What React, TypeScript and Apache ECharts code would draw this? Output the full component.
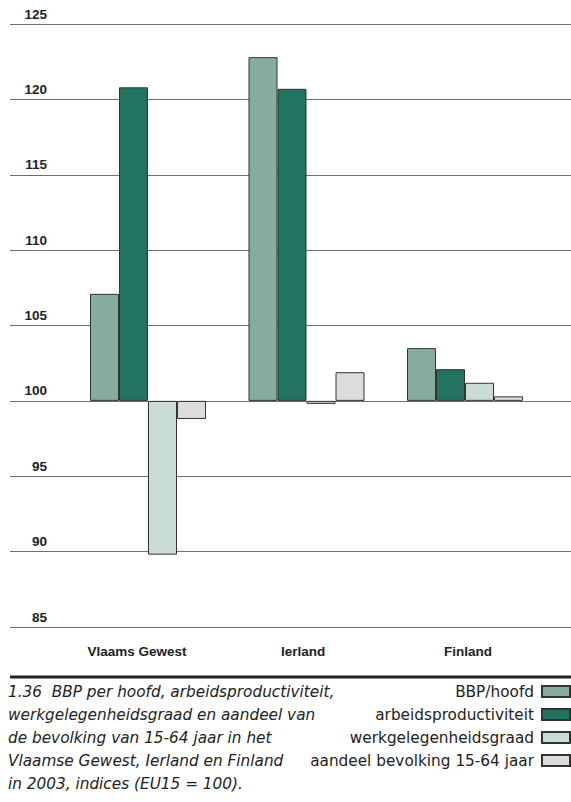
import React, { useEffect, useRef } from "react";
import * as echarts from "echarts";

const categories = ["Vlaams Gewest", "Ierland", "Finland"];
const seriesNames = [
  "BBP/hoofd",
  "arbeidsproductiviteit",
  "werkgelegenheidsgraad",
  "aandeel bevolking 15-64 jaar",
];
const bbpHoofd = [107.1, 122.8, 103.5];
const arbeidsproductiviteit = [120.8, 120.7, 102.1];
const werkgelegenheidsgraad = [89.8, 99.8, 101.2];
const aandeelBevolking = [98.8, 101.9, 100.3];
const seriesValues = [bbpHoofd, arbeidsproductiviteit, werkgelegenheidsgraad, aandeelBevolking];
const seriesColors = ["#86ab9f", "#22735f", "#c8dbd5", "#dcdcdf"];

const BASE = 100; // EU15 = 100
const Y_MIN = 85;
const Y_MAX = 125;
const Y_STEP = 5;

const captionLines = [
  "1.36  BBP per hoofd, arbeidsproductiviteit,",
  "werkgelegenheidsgraad en aandeel van",
  "de bevolking van 15-64 jaar in het",
  "Vlaamse Gewest, Ierland en Finland",
  "in 2003, indices (EU15 = 100).",
];

const FONT = "'Liberation Sans', Arial, Helvetica, sans-serif";
const WIDE_FONT = "'DejaVu Sans', 'Liberation Sans', sans-serif";

export default function App() {
  const ref = useRef<HTMLDivElement>(null);

  useEffect(() => {
    document.body.style.margin = "0";
    if (!ref.current) return;
    const chart = echarts.init(ref.current, undefined, { renderer: "svg" });

    const yCommon = {
      type: "value" as const,
      min: Y_MIN - BASE,
      max: Y_MAX - BASE,
      interval: Y_STEP,
    };

    const catStyle = { fontFamily: FONT, fontWeight: "bold", fontSize: 13.5, color: "#222" };

    const option = {
      animation: false,
      textStyle: { fontFamily: FONT },
      title: {
        text: captionLines.join("\n"),
        left: 8,
        top: 680,
        padding: 0,
        textStyle: {
          fontFamily: WIDE_FONT,
          fontStyle: "italic",
          fontWeight: "normal",
          fontSize: 15.3,
          lineHeight: 23,
          color: "#222",
        },
      },
      legend: {
        orient: "vertical",
        right: 0,
        top: 682.5,
        padding: 0,
        align: "right",
        icon: "rect",
        itemWidth: 28,
        itemHeight: 11,
        itemGap: 5,
        textStyle: {
          fontFamily: WIDE_FONT,
          fontSize: 15.3,
          lineHeight: 18,
          color: "#222",
          padding: [0, 3, 0, 0],
        },
        data: seriesNames,
      },
      grid: [
        { left: 10, right: 0, top: 24, bottom: 175 },
        { left: 68.75, right: 26.75, top: 24, bottom: 175 },
      ],
      xAxis: [
        {
          type: "category",
          gridIndex: 0,
          data: categories,
          show: false,
        },
        {
          type: "category",
          gridIndex: 1,
          data: categories,
          axisLine: { show: false },
          axisTick: { show: false },
          axisLabel: {
            interval: 0,
            margin: 17,
            ...catStyle,
            formatter: (v: string, i: number) => `{c${i}|${v}}`,
            rich: {
              c0: { ...catStyle, padding: [0, 22, 0, 0] },
              c1: { ...catStyle, padding: [0, 7, 0, 0] },
              c2: { ...catStyle, padding: [0, 0, 3, 6] },
            },
          },
        },
      ],
      yAxis: [
        {
          ...yCommon,
          gridIndex: 0,
          axisLine: { show: false },
          axisTick: { show: false },
          splitLine: { show: true, lineStyle: { color: "#6e6e6e", width: 1.2 } },
          axisLabel: {
            inside: true,
            margin: 37,
            align: "right",
            verticalAlign: "bottom",
            padding: [0, 0, 3, 0],
            fontFamily: FONT,
            fontWeight: "bold",
            fontSize: 13.5,
            color: "#222",
            formatter: (v: number) => String(v + BASE),
          },
        },
        {
          ...yCommon,
          gridIndex: 1,
          show: false,
          splitLine: { show: false },
        },
      ],
      series: seriesNames.map((name, s) => ({
        name,
        type: "bar",
        xAxisIndex: 1,
        yAxisIndex: 1,
        barWidth: 29,
        barGap: "0%",
        itemStyle: {
          color: seriesColors[s],
          borderColor: "#333",
          borderWidth: 1,
        },
        data: seriesValues[s].map((v) => Math.round((v - BASE) * 100) / 100),
      })),
      graphic: [
        {
          type: "line",
          shape: { x1: 10, y1: 677, x2: 571, y2: 677 },
          style: { stroke: "#222", lineWidth: 3 },
        },
      ],
    };

    chart.setOption(option as any);
    return () => chart.dispose();
  }, []);

  return <div ref={ref} style={{ width: 571, height: 802 }} />;
}
